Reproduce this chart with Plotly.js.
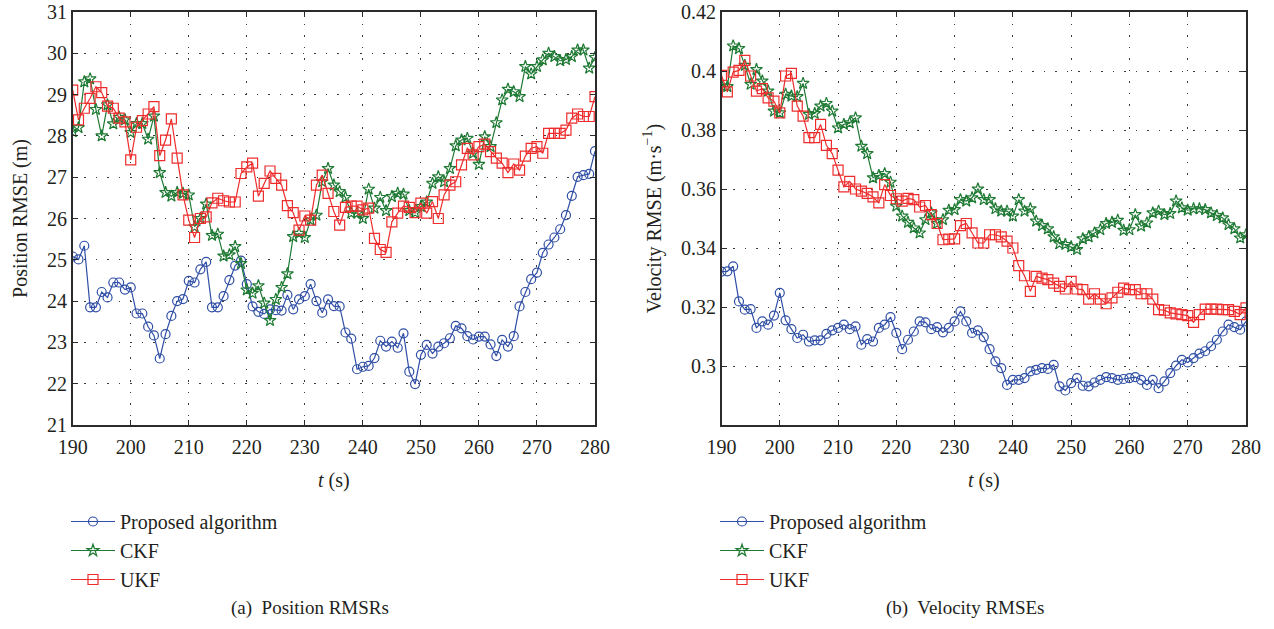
<!DOCTYPE html>
<html>
<head>
<meta charset="utf-8">
<script src="https://cdn.plot.ly/plotly-3.0.1.min.js"></script>
<style>
html,body{margin:0;padding:0;background:#fff;}
#chart{width:1274px;height:629px;}
</style>
</head>
<body>
<div id="chart"></div>
<script>
// time stamps (s)
const tSeconds = [190,191,192,193,194,195,196,197,198,199,
200,201,202,203,204,205,206,207,208,209,
210,211,212,213,214,215,216,217,218,219,
220,221,222,223,224,225,226,227,228,229,
230,231,232,233,234,235,236,237,238,239,
240,241,242,243,244,245,246,247,248,249,
250,251,252,253,254,255,256,257,258,259,
260,261,262,263,264,265,266,267,268,269,
270,271,272,273,274,275,276,277,278,279,280];

const seriesNames = ["Proposed algorithm", "CKF", "UKF"];

// (a) Position RMSE (m)
const posProposed = [25.08,25.01,25.34,23.85,23.85,24.22,24.09,24.45,24.45,24.28,
24.33,23.70,23.70,23.38,23.17,22.61,23.20,23.64,24.00,24.05,
24.49,24.45,24.77,24.95,23.85,23.85,24.12,24.51,24.86,24.98,
24.41,23.87,23.74,23.69,23.80,23.78,23.77,24.15,23.80,24.04,
24.12,24.41,24.00,23.72,24.04,23.88,23.87,23.24,23.09,22.35,
22.41,22.43,22.62,23.04,22.90,23.02,22.87,23.22,22.29,21.99,
22.70,22.94,22.73,22.90,22.98,23.10,23.40,23.34,23.15,23.07,
23.14,23.14,22.95,22.67,23.06,22.90,23.15,23.87,24.22,24.53,
24.69,25.17,25.37,25.54,25.74,26.08,26.55,27.01,27.05,27.08,27.63];

const posCKF = [28.10,28.20,29.31,29.38,28.64,28.00,28.75,28.29,28.45,28.39,
28.08,28.30,28.30,27.92,28.48,27.11,26.63,26.54,26.63,26.61,
26.57,25.80,26.00,26.35,25.59,25.62,25.09,25.12,25.32,24.91,
24.27,24.19,24.37,23.95,23.53,24.04,24.33,24.66,25.56,25.64,
25.54,25.96,26.08,26.89,27.21,26.81,26.65,26.51,26.13,26.13,
26.00,26.71,26.25,26.51,26.19,26.53,26.61,26.59,26.19,26.14,
26.29,26.40,26.85,27.01,26.89,27.21,27.76,27.90,27.94,27.58,
27.31,27.98,27.74,28.32,28.87,29.13,29.07,28.95,29.68,29.50,
29.68,29.84,30.00,29.92,29.82,29.85,29.92,30.08,30.08,29.64,29.90];

const posUKF = [29.11,28.39,28.67,28.91,29.19,29.05,28.72,28.67,28.43,28.34,
27.42,28.21,28.37,28.53,28.71,27.52,27.90,28.41,27.46,26.57,
25.96,25.54,26.00,26.04,26.38,26.49,26.43,26.40,26.40,27.09,
27.25,27.34,26.54,26.85,27.15,26.97,26.81,26.31,26.14,25.72,
26.06,25.96,26.81,27.05,26.61,26.17,25.84,26.27,26.30,26.30,
26.21,26.25,25.52,25.25,25.18,25.92,26.13,26.30,26.27,26.14,
26.37,26.13,26.41,26.00,26.57,26.81,26.89,27.30,27.70,27.54,
27.74,27.80,27.62,27.46,27.34,27.11,27.32,27.17,27.51,27.70,
27.74,27.58,28.06,28.06,28.06,28.14,28.43,28.53,28.47,28.47,28.95];

// (b) Velocity RMSE (m/s)
const velProposed = [0.3320,0.3321,0.3338,0.3219,0.3191,0.3193,0.3129,0.3151,0.3140,0.3171,
0.3248,0.3155,0.3125,0.3095,0.3106,0.3083,0.3087,0.3087,0.3109,0.3121,
0.3129,0.3140,0.3125,0.3134,0.3072,0.3091,0.3083,0.3129,0.3140,0.3166,
0.3112,0.3057,0.3089,0.3117,0.3151,0.3148,0.3125,0.3132,0.3114,0.3129,
0.3151,0.3185,0.3151,0.3112,0.3121,0.3098,0.3057,0.3016,0.2993,0.2936,
0.2953,0.2953,0.2959,0.2982,0.2987,0.2993,0.2990,0.3004,0.2931,0.2917,
0.2942,0.2959,0.2933,0.2931,0.2944,0.2953,0.2962,0.2959,0.2953,0.2956,
0.2959,0.2962,0.2953,0.2936,0.2953,0.2925,0.2948,0.2976,0.3001,0.3021,
0.3012,0.3027,0.3042,0.3050,0.3067,0.3089,0.3117,0.3140,0.3132,0.3123,0.3151];

const velCKF = [0.3950,0.3947,0.4085,0.4076,0.4019,0.3955,0.4005,0.3966,0.3932,0.3864,
0.3858,0.3921,0.3915,0.3913,0.3958,0.3853,0.3856,0.3881,0.3890,0.3864,
0.3807,0.3819,0.3824,0.3841,0.3745,0.3720,0.3638,0.3646,0.3652,0.3623,
0.3542,0.3508,0.3487,0.3468,0.3451,0.3496,0.3519,0.3483,0.3496,0.3528,
0.3530,0.3564,0.3559,0.3570,0.3600,0.3564,0.3564,0.3533,0.3525,0.3525,
0.3508,0.3564,0.3525,0.3533,0.3491,0.3476,0.3465,0.3438,0.3415,0.3412,
0.3404,0.3395,0.3431,0.3438,0.3451,0.3462,0.3483,0.3487,0.3494,0.3460,
0.3462,0.3513,0.3474,0.3485,0.3519,0.3525,0.3513,0.3517,0.3559,0.3536,
0.3528,0.3533,0.3533,0.3530,0.3519,0.3510,0.3502,0.3479,0.3465,0.3434,0.3445];

const velUKF = [0.3985,0.3929,0.3996,0.4002,0.4036,0.3983,0.3932,0.3940,0.3909,0.3898,
0.3858,0.3983,0.3992,0.3881,0.3847,0.3774,0.3774,0.3819,0.3748,0.3720,
0.3664,0.3607,0.3626,0.3600,0.3593,0.3585,0.3573,0.3553,0.3615,0.3578,
0.3567,0.3559,0.3568,0.3564,0.3539,0.3544,0.3513,0.3483,0.3428,0.3430,
0.3431,0.3476,0.3483,0.3451,0.3417,0.3417,0.3445,0.3445,0.3438,0.3423,
0.3400,0.3340,0.3306,0.3253,0.3304,0.3298,0.3293,0.3281,0.3270,0.3261,
0.3287,0.3261,0.3259,0.3227,0.3245,0.3227,0.3211,0.3231,0.3250,0.3264,
0.3259,0.3259,0.3245,0.3245,0.3227,0.3191,0.3189,0.3180,0.3177,0.3174,
0.3171,0.3148,0.3174,0.3193,0.3193,0.3193,0.3191,0.3191,0.3185,0.3174,0.3197];

const xTickVals = [190,200,210,220,230,240,250,260,270,280];
const posTickVals = [21,22,23,24,25,26,27,28,29,30,31];
const velTickVals = [0.30,0.32,0.34,0.36,0.38,0.40,0.42];
const velTickText = ["0.3","0.32","0.34","0.36","0.38","0.4","0.42"];

const FONT = "Liberation Serif";
const TXT = "#231f20";
const styles = [
  {color:"#2f4ea5", symbol:"circle-open", size:9},
  {color:"#1f7a34", symbol:"star-open", size:9},
  {color:"#ee2c2c", symbol:"square-open", size:10}
];

function mk(y, i, xa, ya, lg){
  const s = styles[i];
  return {
    x: tSeconds, y: y, type:"scatter", mode:"lines+markers",
    name: seriesNames[i], xaxis: xa, yaxis: ya, legend: lg,
    line:{color:s.color, width:1.2},
    marker:{symbol:s.symbol, size:s.size, color:s.color, line:{color:s.color, width:1.2}},
    cliponaxis:true
  };
}

const data = [
  mk(posProposed,0,"x","y","legend"),
  mk(posCKF,1,"x","y","legend"),
  mk(posUKF,2,"x","y","legend"),
  mk(velProposed,0,"x2","y2","legend2"),
  mk(velCKF,1,"x2","y2","legend2"),
  mk(velUKF,2,"x2","y2","legend2")
];

const axBase = {
  showline:true, linecolor:"#2b2b2b", linewidth:1.6, mirror:"allticks",
  ticks:"inside", ticklen:5, tickwidth:1, tickcolor:"#2b2b2b",
  showgrid:true, gridcolor:"#3a3a3a", gridwidth:1, griddash:"1.5px,10px",
  zeroline:false, tickfont:{family:FONT, size:20, color:TXT}
};

const yTop = 1 - 12/629, yBot = 1 - 425/629;
const titleFont = {family:FONT, size:20, color:TXT};

const layout = {
  width:1274, height:629,
  margin:{l:0,r:0,t:0,b:0},
  paper_bgcolor:"#fff", plot_bgcolor:"#fff",
  font:{family:FONT, color:TXT},
  showlegend:true,
  xaxis: Object.assign({}, axBase, {domain:[72.7/1274, 595/1274], range:[190,280], tickvals:xTickVals, anchor:"y",
    ticklabelstandoff:3, title:{text:"<i>t</i> (s)", font:titleFont, standoff:16}}),
  yaxis: Object.assign({}, axBase, {domain:[yBot,yTop], range:[21,31], tickvals:posTickVals, anchor:"x",
    title:{text:"Position RMSE (m)", font:titleFont, standoff:14}}),
  xaxis2: Object.assign({}, axBase, {domain:[721.5/1274, 1246/1274], range:[190,280], tickvals:xTickVals, anchor:"y2",
    ticklabelstandoff:3, title:{text:"<i>t</i> (s)", font:titleFont, standoff:16}}),
  yaxis2: Object.assign({}, axBase, {domain:[yBot,yTop], range:[0.28,0.42], tickvals:velTickVals, ticktext:velTickText, anchor:"x2",
    title:{text:"Velocity RMSE (m·s<sup>−1</sup>)", font:titleFont, standoff:14}}),
  legend:{x:66/1274, y:1-502/629, xanchor:"left", yanchor:"top", bgcolor:"rgba(0,0,0,0)",
    font:{family:FONT,size:20,color:TXT}, tracegroupgap:0, itemwidth:44},
  legend2:{x:715/1274, y:1-502/629, xanchor:"left", yanchor:"top", bgcolor:"rgba(0,0,0,0)",
    font:{family:FONT,size:20,color:TXT}, tracegroupgap:0, itemwidth:44},
  annotations:[
    {text:"(a)  Position RMSRs", x:310/1274, y:1-608/629, xref:"paper", yref:"paper", xanchor:"center", yanchor:"middle", showarrow:false,
     font:{family:FONT,size:19,color:TXT}},
    {text:"(b)  Velocity RMSEs", x:965/1274, y:1-608/629, xref:"paper", yref:"paper", xanchor:"center", yanchor:"middle", showarrow:false,
     font:{family:FONT,size:19,color:TXT}}
  ]
};

Plotly.newPlot("chart", data, layout, {displayModeBar:false, staticPlot:true});
</script>
</body>
</html>
